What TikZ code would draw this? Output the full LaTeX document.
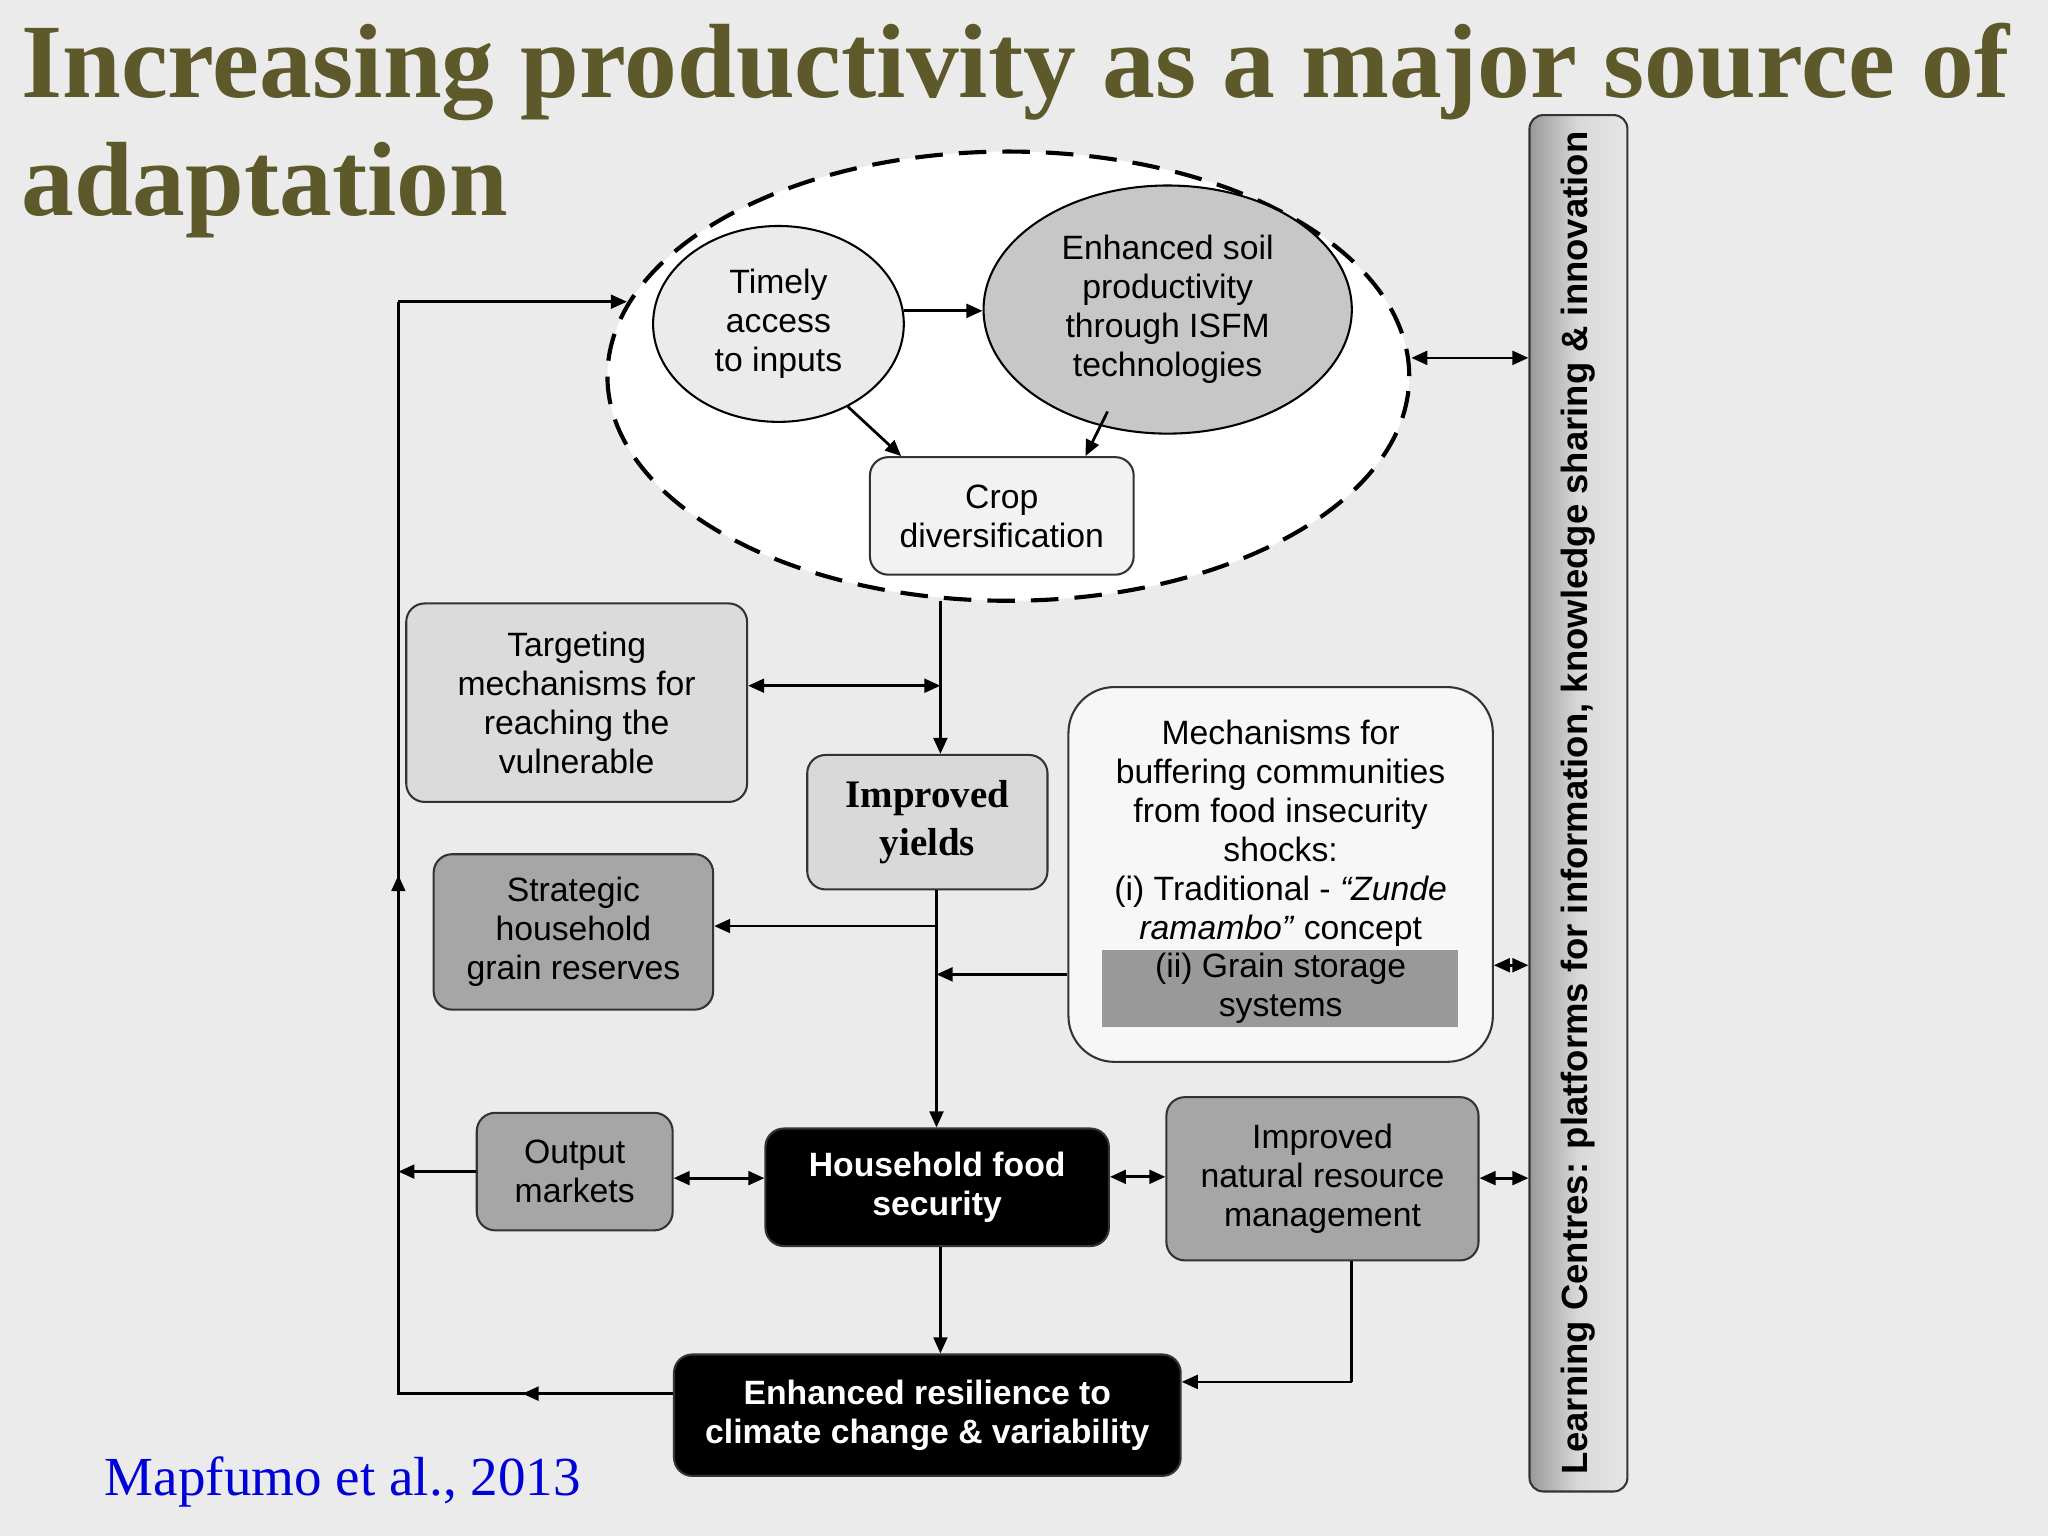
\documentclass[tikz,border=0pt]{standalone}
\usepackage{fontspec}
\setmainfont{Liberation Sans}
\newfontfamily\serifb{Liberation Serif}
\usetikzlibrary{shapes.geometric,arrows.meta}
\begin{document}
\begin{tikzpicture}[x=0.02cm,y=-0.02cm,
  every node/.style={font=\fontsize{14.7}{17}\selectfont,align=center,inner sep=0pt},
  box/.style={draw=black!80,line width=0.9pt,rounded corners=8pt},
  dark/.style={box,fill=black,text=white,font=\fontsize{14.7}{17}\bfseries\selectfont},
  arr/.style={line width=1.2pt,-{Triangle[length=7pt,width=6pt]}},
  darr/.style={line width=1.2pt,{Triangle[length=7pt,width=6pt]}-{Triangle[length=7pt,width=6pt]}},
  ln/.style={line width=1.2pt}]
\fill[black!8] (0,0) rectangle (1568,1176);
\useasboundingbox (0,0) rectangle (1568,1176);
\node[anchor=base west,text=olive!55!black,font=\serifb\fontsize{46}{50}\bfseries\selectfont] (t1) at (16,75) {Increasing productivity as a major source of};
\node[anchor=base west,text=olive!55!black,font=\serifb\fontsize{46}{50}\bfseries\selectfont] (t2) at (16,165) {adaptation};
\node[anchor=base west,text=blue!85!black,font=\serifb\fontsize{24}{30}\selectfont] (ref) at (80,1145) {Mapfumo et al., 2013};
% bar
\node[box,rounded corners=6pt,minimum width=1.5cm,minimum height=21.08cm,left color=black!40,right color=black!10,middle color=black!15] (bar) at (1208.5,615) {};
\node[rotate=90,font=\fontsize{15.9}{18}\bfseries\selectfont] (bart) at (1208.5,615) {Learning Centres: platforms for information, knowledge sharing \& innovation};
% dashed ellipse
\node[ellipse,draw,dashed,dash pattern=on 12pt off 7pt,line width=1.8pt,fill=white,minimum width=12.28cm,minimum height=6.88cm] (big) at (772,288) {};
\node[ellipse,draw,line width=0.9pt,fill=black!8,minimum width=3.84cm,minimum height=3.0cm] (tim) at (596,248) {Timely\\access\\to inputs};
\node[ellipse,draw,line width=0.9pt,fill=black!22,minimum width=5.64cm,minimum height=3.8cm] (soil) at (894,237) {Enhanced soil\\productivity\\through ISFM\\technologies};
\node[box,fill=black!5,minimum width=4.04cm,minimum height=1.8cm] (crop) at (767,395) {Crop\\diversification};
\node[box,fill=black!14,minimum width=5.22cm,minimum height=3.04cm] (targ) at (441.5,538) {Targeting\\mechanisms for\\reaching the\\vulnerable};
\node[box,fill=black!15,minimum width=3.68cm,minimum height=2.06cm,font=\serifb\fontsize{17}{21}\bfseries\selectfont] (yield) at (710,629.5) {Improved\\yields};
\node[box,fill=black!35,minimum width=4.28cm,minimum height=2.38cm] (strat) at (439,713.5) {Strategic\\household\\grain reserves};
\node[box,rounded corners=20pt,fill=black!3,minimum width=6.5cm,minimum height=5.74cm] (mech) at (980.5,669.5) {};
\fill[black!40] (844,727) rectangle (1116,786);
\node (mecht) at (980.5,638) {Mechanisms for\\buffering communities\\from food insecurity\\shocks:\\(i) Traditional - \textit{``Zunde}\\\textit{ramambo''} concept};
\node (mechb) at (980.5,757) {(ii) Grain storage\\systems};
\node[box,fill=black!35,minimum width=3.0cm,minimum height=1.8cm] (out) at (440,897) {Output\\markets};
\node[dark,minimum width=5.26cm,minimum height=1.8cm] (hh) at (717.5,909) {Household food\\security};
\node[box,fill=black!35,minimum width=4.78cm,minimum height=2.5cm] (nrm) at (1012.5,902.5) {Improved\\natural resource\\management};
\node[dark,minimum width=7.76cm,minimum height=1.86cm] (res) at (710,1083.5) {Enhanced resilience to\\climate change \& variability};
% arrows
\coordinate (ta) at (692,238);
\draw[arr] (ta) -- (soil.west|-ta);
\draw[arr] (tim.-50) -- (crop.north west-|690,0);
\draw[arr] (848,315) -- (crop.north east-|831,0);
\draw[darr] (big.east|-0,274) -- (bar.west|-0,274);
\coordinate (jt) at (720,460);
\draw[arr] (jt) -- (yield.north-|720,0);
\draw[darr] (targ.east|-0,525) -- (720,525);
\coordinate (jy) at (717,709);
\draw[arr] (yield.south-|717,0) -- (hh.north-|717,0);
\draw[arr] (jy) -- (strat.east|-jy);
\draw[arr] (mech.west|-0,746) -- (717,746);
\draw[darr] (mech.east|-0,739) -- (bar.west|-0,739);
\draw[darr] (out.east|-0,902) -- (hh.west|-0,902);
\draw[darr] (hh.east|-0,901) -- (nrm.west|-0,901);
\draw[darr] (nrm.east|-0,902) -- (bar.west|-0,902);
\coordinate (lx) at (305,897);
\draw[arr] (out.west|-lx) -- (lx);
\draw[arr] (hh.south-|720,0) -- (res.north-|720,0);
\draw[ln] (nrm.south-|1035,0) -- (1035,1058);
\draw[arr] (1035,1058) -- (res.east|-0,1058);
\coordinate (c1) at (305,1067);
\coordinate (c2) at (305,231);
\draw[ln] (res.west|-c1) -- (c1) -- (c2);
\draw[arr] (res.west|-c1) -- (400,1067);
\draw[arr] (c1) -- (305,670);
\draw[arr] (c2) -- (480,231);
\end{tikzpicture}
\end{document}
